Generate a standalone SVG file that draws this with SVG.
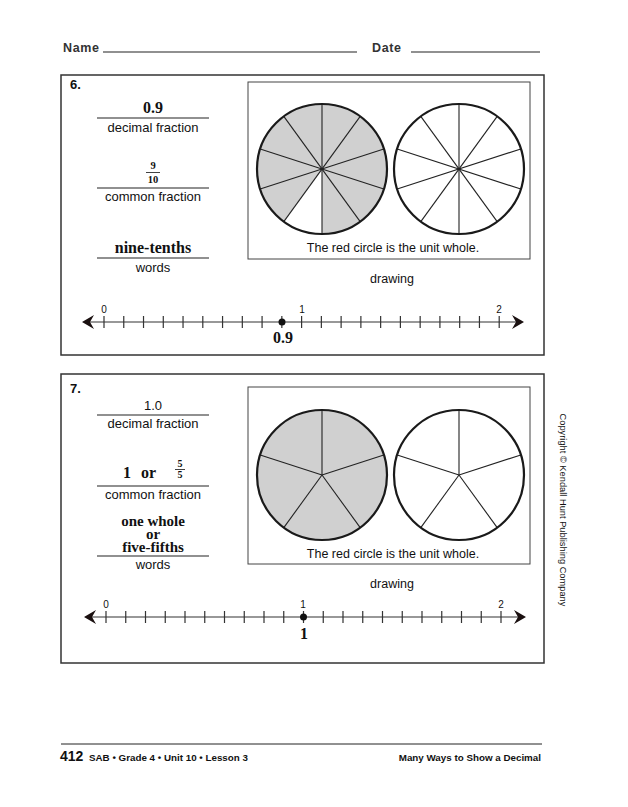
<svg xmlns="http://www.w3.org/2000/svg" width="628" height="807" viewBox="0 0 628 807">
<style>
.sans{font-family:"Liberation Sans",Arial,sans-serif;fill:#111}
.serif{font-family:"Liberation Serif","Times New Roman",serif;fill:#111;font-weight:bold}
.lbl{font-size:13px;text-anchor:middle}
.ans{font-size:16px;text-anchor:middle}
.rule{stroke:#222;stroke-width:1.2;fill:none}
.box{stroke:#333;stroke-width:1.5;fill:none}
.ibox{stroke:#444;stroke-width:1;fill:none}
.spoke{stroke:#222;stroke-width:1.1;fill:none}
.ring{stroke:#1a1a1a;stroke-width:2.2;fill:none}
.nl{stroke:#333;stroke-width:1.2;fill:none}
.arrow{fill:#1a1010}
.tick{font-size:10px;text-anchor:middle}
.hdr{font-size:12.5px;font-weight:bold;letter-spacing:0.6px;fill:#333}
.ftr{font-size:9.8px;font-weight:bold}
</style>
<defs>
<g id="spokes10" class="spoke">
<line x1="0" y1="-65" x2="0" y2="65"/>
<line x1="38.2" y1="-52.6" x2="-38.2" y2="52.6"/>
<line x1="61.8" y1="-20.1" x2="-61.8" y2="20.1"/>
<line x1="61.8" y1="20.1" x2="-61.8" y2="-20.1"/>
<line x1="38.2" y1="52.6" x2="-38.2" y2="-52.6"/>
</g>
<g id="spokes5" class="spoke">
<line x1="0" y1="0" x2="0" y2="-65"/>
<line x1="0" y1="0" x2="61.8" y2="-20.1"/>
<line x1="0" y1="0" x2="38.2" y2="52.6"/>
<line x1="0" y1="0" x2="-38.2" y2="52.6"/>
<line x1="0" y1="0" x2="-61.8" y2="-20.1"/>
</g>
<path id="la" d="M0,0 L12,-7 L8,0 L12,7 Z"/>
<path id="ra" d="M0,0 L-12,-7 L-8,0 L-12,7 Z"/>
</defs>
<rect width="628" height="807" fill="#fff"/>

<g id="header">
<text class="sans hdr" x="63" y="52">Name</text>
<line class="rule" x1="103" y1="52" x2="357" y2="52"/>
<text class="sans hdr" x="372" y="52">Date</text>
<line class="rule" x1="411" y1="52" x2="540" y2="52"/>
</g>

<g id="problem6">
<rect class="box" x="61" y="75" width="483" height="280"/>
<text class="sans" x="70" y="89" font-size="13" font-weight="bold">6.</text>
<text class="serif ans" x="153" y="113">0.9</text>
<line class="rule" x1="97" y1="118" x2="209" y2="118"/>
<text class="sans lbl" x="153" y="132">decimal fraction</text>
<text class="serif" x="153" y="169" font-size="10.5" text-anchor="middle">9</text>
<line x1="146" y1="172.5" x2="160" y2="172.5" stroke="#111" stroke-width="0.8"/>
<text class="serif" x="153" y="183" font-size="10.5" text-anchor="middle">10</text>
<line class="rule" x1="97" y1="188" x2="209" y2="188"/>
<text class="sans lbl" x="153" y="201">common fraction</text>
<text class="serif ans" x="153" y="253">nine-tenths</text>
<line class="rule" x1="97" y1="258" x2="209" y2="258"/>
<text class="sans lbl" x="153" y="272">words</text>

<rect class="ibox" x="248" y="82" width="282" height="177"/>
<g id="circle6a" transform="translate(322,169)">
<circle r="65" fill="#d0d0d0"/>
<path d="M0,0 L0,65 A65,65 0 0 1 -38.2,52.6 Z" fill="#fff"/>
<use href="#spokes10"/>
<circle r="65" class="ring"/>
</g>
<g id="circle6b" transform="translate(459,169)">
<circle r="65" fill="#fff"/>
<use href="#spokes10"/>
<circle r="65" class="ring"/>
</g>
<text class="sans" x="393" y="252" font-size="12.5" text-anchor="middle">The red circle is the unit whole.</text>
<text class="sans" x="392" y="283" font-size="12.5" text-anchor="middle">drawing</text>

<g id="numberline6">
<line class="nl" x1="88" y1="322" x2="518" y2="322"/>
<use href="#la" x="82" y="322" class="arrow"/>
<use href="#ra" x="524" y="322" class="arrow"/>
<path class="nl" d="M104,316v12M123.76,316v12M143.52,316v12M163.28,316v12M183.04,316v12M202.8,316v12M222.56,316v12M242.32,316v12M262.08,316v12M281.84,316v12M301.6,316v12M321.36,316v12M341.12,316v12M360.88,316v12M380.64,316v12M400.4,316v12M420.16,316v12M439.92,316v12M459.68,316v12M479.44,316v12M499.2,316v12"/>
<text class="sans tick" x="104" y="313">0</text>
<text class="sans tick" x="302" y="313">1</text>
<text class="sans tick" x="499" y="313">2</text>
<circle cx="282" cy="322" r="3.5" fill="#111"/>
<text class="serif ans" x="283" y="343">0.9</text>
</g>
</g>

<g id="problem7">
<rect class="box" x="61" y="374" width="483" height="289"/>
<text class="sans" x="70" y="393" font-size="13" font-weight="bold">7.</text>
<text class="sans lbl" x="153" y="410">1.0</text>
<line class="rule" x1="97" y1="415" x2="209" y2="415"/>
<text class="sans lbl" x="153" y="428">decimal fraction</text>
<text class="serif" x="123" y="478" font-size="16">1</text>
<text class="serif" x="141" y="478" font-size="16">or</text>
<text class="serif" x="180" y="467" font-size="10" text-anchor="middle">5</text>
<line x1="175" y1="469.5" x2="185" y2="469.5" stroke="#111" stroke-width="0.8"/>
<text class="serif" x="180" y="478" font-size="10" text-anchor="middle">5</text>
<line class="rule" x1="97" y1="486" x2="209" y2="486"/>
<text class="sans lbl" x="153" y="499">common fraction</text>
<text class="serif" font-size="15" text-anchor="middle"><tspan x="153" y="526">one whole</tspan><tspan x="153" y="539">or</tspan><tspan x="153" y="552">five-fifths</tspan></text>
<line class="rule" x1="97" y1="556" x2="209" y2="556"/>
<text class="sans lbl" x="153" y="569">words</text>

<rect class="ibox" x="248" y="387" width="282" height="177"/>
<g id="circle7a" transform="translate(322,475)">
<circle r="65" fill="#d0d0d0"/>
<use href="#spokes5"/>
<circle r="65" class="ring"/>
</g>
<g id="circle7b" transform="translate(459,475)">
<circle r="65" fill="#fff"/>
<use href="#spokes5"/>
<circle r="65" class="ring"/>
</g>
<text class="sans" x="393" y="558" font-size="12.5" text-anchor="middle">The red circle is the unit whole.</text>
<text class="sans" x="392" y="588" font-size="12.5" text-anchor="middle">drawing</text>

<g id="numberline7">
<line class="nl" x1="90" y1="617" x2="520" y2="617"/>
<use href="#la" x="84" y="617" class="arrow"/>
<use href="#ra" x="526" y="617" class="arrow"/>
<path class="nl" d="M106,611v12M125.75,611v12M145.5,611v12M165.25,611v12M185,611v12M204.75,611v12M224.5,611v12M244.25,611v12M264,611v12M283.75,611v12M303.5,611v12M323.25,611v12M343,611v12M362.75,611v12M382.5,611v12M402.25,611v12M422,611v12M441.75,611v12M461.5,611v12M481.25,611v12M501,611v12"/>
<text class="sans tick" x="106" y="608">0</text>
<text class="sans tick" x="303" y="608">1</text>
<text class="sans tick" x="501" y="608">2</text>
<circle cx="303.5" cy="617" r="3.5" fill="#111"/>
<text class="serif ans" x="304" y="639">1</text>
</g>
</g>

<text class="sans" transform="translate(560,510) rotate(90)" font-size="9.3" text-anchor="middle" fill="#444">Copyright © Kendall Hunt Publishing Company</text>

<g id="footer">
<line x1="61" y1="744" x2="542" y2="744" stroke="#222" stroke-width="1"/>
<text class="sans" x="60" y="761" font-size="14" font-weight="bold">412</text>
<text class="sans ftr" x="89" y="761">SAB • Grade 4 • Unit 10 • Lesson 3</text>
<text class="sans ftr" x="541" y="761" text-anchor="end">Many Ways to Show a Decimal</text>
</g>
</svg>
